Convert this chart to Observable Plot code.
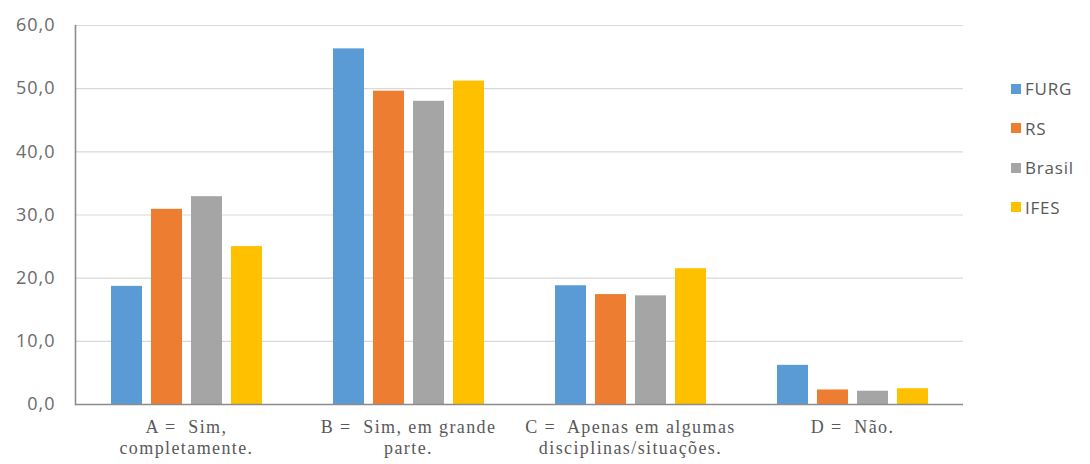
<!DOCTYPE html>
<html>
<head>
<meta charset="utf-8">
<script src="https://cdn.jsdelivr.net/npm/d3@7"></script>
<script src="https://cdn.jsdelivr.net/npm/@observablehq/plot@0.6"></script>
<style>
  html, body { margin: 0; padding: 0; background: #fff; }
  #wrap { position: relative; width: 1090px; height: 464px; }
  #legend { position: absolute; left: 1011px; top: 69px; font-family: "Open Sans", sans-serif; font-size: 17px; color: #595959; letter-spacing: 0.8px; }
  #legend .item { display: flex; align-items: center; height: 39.5px; }
  #legend .sw { width: 10px; height: 10px; margin-right: 4px; }
  g[aria-label="fx-axis tick label"] text { letter-spacing: 1.4px; }
  g[aria-label="y-axis tick label"] text { letter-spacing: 1px; }
</style>
</head>
<body>
<div id="wrap">
  <div id="chart"></div>
  <div id="legend"></div>
</div>
<script>
const categories = [
  "A =  Sim,\ncompletamente.",
  "B =  Sim, em grande\nparte.",
  "C =  Apenas em algumas\ndisciplinas/situações.",
  "D =  Não."
];
const series = ["FURG", "RS", "Brasil", "IFES"];
const FURG   = [18.7, 56.3, 18.8, 6.2];
const RS     = [30.9, 49.6, 17.4, 2.3];
const Brasil = [32.9, 48.0, 17.2, 2.1];
const IFES   = [25.0, 51.2, 21.5, 2.5];
const yTicks = [0, 10, 20, 30, 40, 50, 60];
const colors = ["#5b9bd5", "#ed7d31", "#a5a5a5", "#ffc000"];

const valuesBySeries = {FURG, RS, Brasil, IFES};
const data = [];
categories.forEach((c, i) => {
  series.forEach(s => data.push({category: c, series: s, value: valuesBySeries[s][i]}));
});

const chart = Plot.plot({
  width: 1090,
  height: 464,
  marginLeft: 75,
  marginRight: 127,
  marginTop: 25,
  marginBottom: 60,
  fx: {domain: categories, paddingInner: 0, paddingOuter: 0, label: null},
  x: {domain: series, axis: null, paddingInner: 0.225, paddingOuter: 0.8875},
  y: {domain: [0, 60], label: null},
  color: {domain: series, range: colors},
  marks: [
    Plot.gridY(yTicks, {stroke: "#d9d9d9", strokeOpacity: 1, strokeWidth: 1.2}),
    Plot.barY(data, {fx: "category", x: "series", y: "value", fill: "series"}),
    Plot.ruleY([0], {stroke: "#8c8c8c", strokeWidth: 1.6}),
    Plot.frame({anchor: "left", facetAnchor: "left", stroke: "#8c8c8c", strokeWidth: 1.6}),
    Plot.axisY(yTicks, {
      anchor: "left", tickSize: 0, tickPadding: 20, label: null,
      tickFormat: d => d.toFixed(1).replace(".", ","),
      fontSize: 18, fontFamily: "Open Sans", fill: "#6b6b6b"
    }),
    Plot.axisFx({
      anchor: "bottom", tickSize: 0, tickPadding: 13, label: null,
      fontSize: 18, fontFamily: "Liberation Serif", fill: "#595959", lineHeight: 1.2
    })
  ]
});
document.getElementById("chart").appendChild(chart);

const legend = document.getElementById("legend");
series.forEach((s, i) => {
  const item = document.createElement("div");
  item.className = "item";
  const sw = document.createElement("span");
  sw.className = "sw";
  sw.style.background = colors[i];
  const t = document.createElement("span");
  t.textContent = s;
  item.appendChild(sw);
  item.appendChild(t);
  legend.appendChild(item);
});
</script>
</body>
</html>
